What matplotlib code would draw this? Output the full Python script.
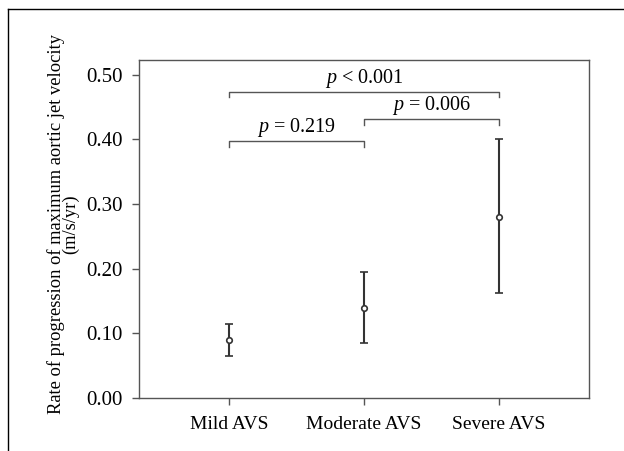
import matplotlib.pyplot as plt
from matplotlib.lines import Line2D

groups = ["Mild AVS", "Moderate AVS", "Severe AVS"]
means = [0.090, 0.139, 0.280]
lower = [0.065, 0.085, 0.162]
upper = [0.114, 0.194, 0.400]
yticks = [0.0, 0.1, 0.2, 0.3, 0.4, 0.5]

# comparisons: (group a, group b, bracket height, label)
comparisons = [
    (1, 2, 0.397, "$p$ = 0.219"),
    (2, 3, 0.431, "$p$ = 0.006"),
    (1, 3, 0.474, "$p$ < 0.001"),
]

plt.rcParams["font.family"] = ["Liberation Serif", "DejaVu Serif"]
plt.rcParams["mathtext.fontset"] = "custom"
plt.rcParams["mathtext.it"] = "Liberation Serif:italic"

fig = plt.figure(figsize=(6.24, 4.51), dpi=100)
ax = fig.add_axes([0.2228, 0.1182, 0.7211, 0.7488])

xs = [1, 2, 3]
yerr = [[m - lo for m, lo in zip(means, lower)], [hi - m for m, hi in zip(means, upper)]]
ax.errorbar(xs, means, yerr=yerr, fmt="o", color="#333333", ecolor="#333333",
            elinewidth=1.5, capsize=3, capthick=1.5, markersize=4,
            markerfacecolor="white", markeredgewidth=1.2)

drop = 0.008
for a, b, h, lab in comparisons:
    ax.plot([a, a, b, b], [h - drop, h, h, h - drop], color="#555555", lw=1)
    ax.text((a + b) / 2, h + 0.003, lab, ha="center", va="bottom", fontsize=14.5)

ax.set_xlim(1 / 3, 3 + 2 / 3)
ax.set_ylim(0, 0.523)
ax.set_xticks(xs)
ax.set_xticklabels(groups, fontsize=14)
ax.set_yticks(yticks)
ax.set_yticklabels([f"{v:.2f}" for v in yticks], fontsize=15)
ax.tick_params(direction="out", length=5, width=1, color="#555555")
ax.tick_params(axis="y", pad=7)
ax.tick_params(axis="x", pad=8)
for s in ax.spines.values():
    s.set_color("#555555")
    s.set_linewidth(1)

ax.set_ylabel("Rate of progression of maximum aortic jet velocity\n(m/s/yr)",
              fontsize=13.3, linespacing=0.8)
ax.yaxis.set_label_coords(-0.132, 0.515)

# page frame lines
fig.add_artist(Line2D([8 / 624, 1], [1 - 9 / 451, 1 - 9 / 451], color="black", lw=1))
fig.add_artist(Line2D([8 / 624, 8 / 624], [0, 1 - 9 / 451], color="black", lw=1))

fig.savefig("out.png", dpi=100)
